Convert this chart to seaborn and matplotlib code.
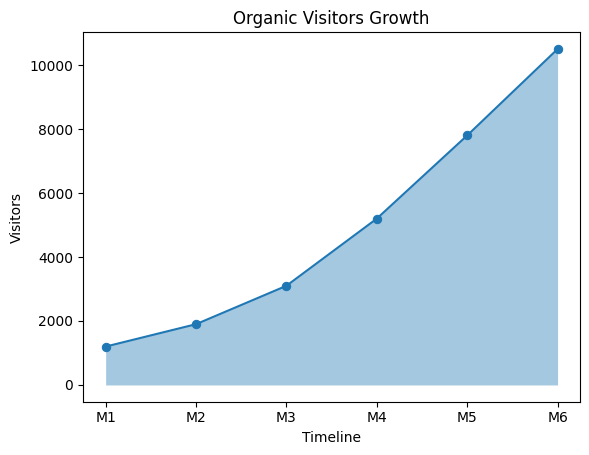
import matplotlib
matplotlib.use('Agg')
import matplotlib.pyplot as plt
import seaborn as sns
import pandas as pd

months = ['M1', 'M2', 'M3', 'M4', 'M5', 'M6']
visitors = [1200, 1900, 3100, 5200, 7800, 10500]

df = pd.DataFrame({'Timeline': months, 'Visitors': visitors})

fig, ax = plt.subplots(figsize=(5.89, 4.55), dpi=100)
ax.fill_between(df['Timeline'], df['Visitors'], color='#1f77b4', alpha=0.4, linewidth=0)
sns.lineplot(data=df, x='Timeline', y='Visitors', marker='o', markersize=6,
             markeredgecolor='#1f77b4', color='#1f77b4', ax=ax)
ax.set_title('Organic Visitors Growth')
ax.set_xlabel('Timeline')
ax.set_ylabel('Visitors')
fig.subplots_adjust(left=0.141, right=0.985, top=0.929, bottom=0.117)
fig.savefig('out.png', dpi=100)
